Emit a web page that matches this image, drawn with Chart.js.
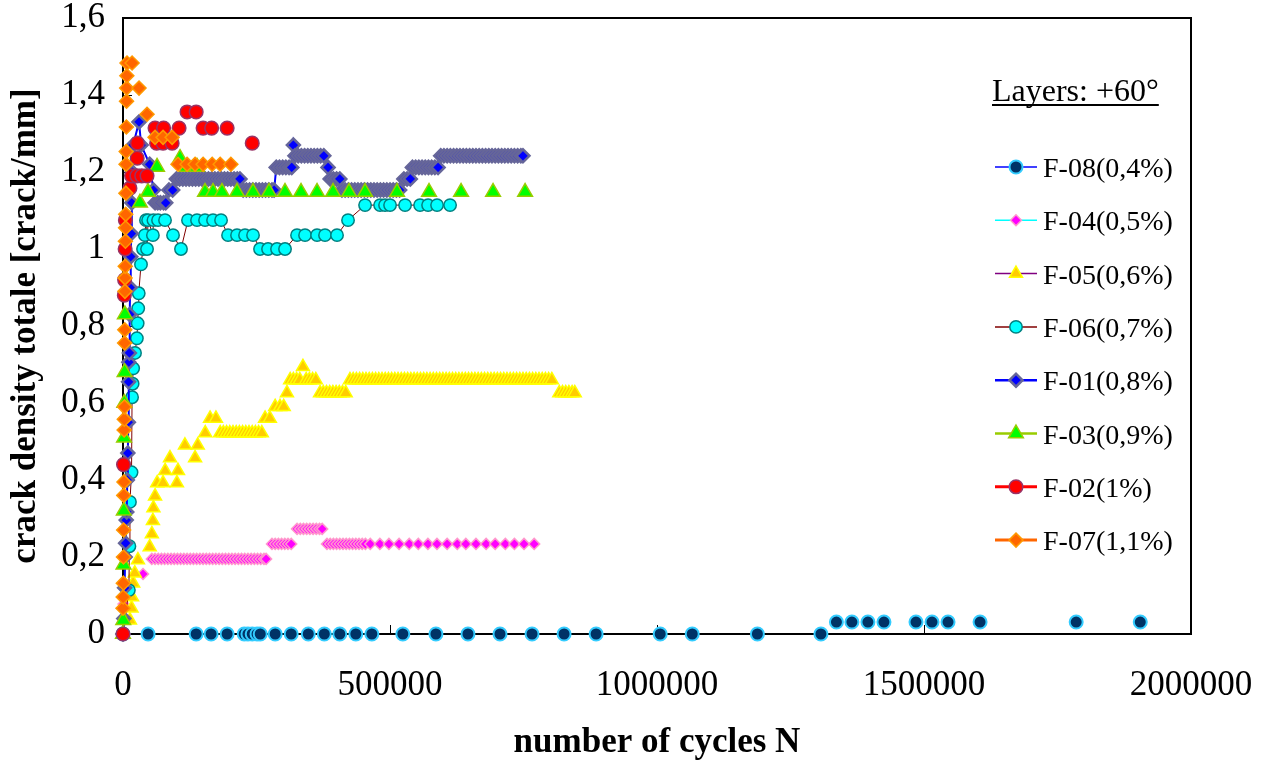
<!DOCTYPE html>
<html>
<head>
<meta charset="utf-8">
<script src="https://cdn.jsdelivr.net/npm/chart.js@4/dist/chart.umd.min.js"></script>
<style>
  html, body { margin: 0; padding: 0; background: #fff; }
  canvas { display: block; }
</style>
</head>
<body>
<canvas id="crackChart" width="1270" height="766"></canvas>
<script>
// Axis text
const xTickLabels = ['0', '500000', '1000000', '1500000', '2000000'];
const yTickLabels = ['0', '0,2', '0,4', '0,6', '0,8', '1', '1,2', '1,4', '1,6'];
const xTitle = 'number of cycles N';
const yTitle = 'crack density totale [crack/mm]';
const legendTitle = 'Layers: +60°';
const seriesNames = ['F-08(0,4%)', 'F-04(0,5%)', 'F-05(0,6%)', 'F-06(0,7%)', 'F-01(0,8%)', 'F-03(0,9%)', 'F-02(1%)', 'F-07(1,1%)'];

// Measurements: [number of cycles, crack density (crack/mm)]
const f08 = [
  [0,0],[47000,0],[137000,0],[165000,0],[195000,0],[227000,0],[234000,0],[242000,0],[251000,0],[257000,0],
  [285000,0],[315000,0],[347000,0],[377000,0],[406000,0],[436000,0],[466000,0],[524000,0],[586000,0],[646000,0],
  [706000,0],[766000,0],[826000,0],[886000,0],[1006000,0],[1066000,0],[1188000,0],[1307000,0],
  [1336000,0.031],[1365000,0.031],[1395000,0.031],[1425000,0.031],[1485000,0.031],[1515000,0.031],[1545000,0.031],
  [1605000,0.031],[1785000,0.031],[1905000,0.031]
];

const f04 = [
  [0,0],[1000,0.078],[37500,0.156],
  [54000,0.195],[60000,0.195],[66000,0.195],[72000,0.195],[78000,0.195],[84000,0.195],[90000,0.195],[96000,0.195],
  [102000,0.195],[108000,0.195],[114000,0.195],[120000,0.195],[126000,0.195],[132000,0.195],[138000,0.195],[144000,0.195],
  [150000,0.195],[156000,0.195],[162000,0.195],[168000,0.195],[174000,0.195],[180000,0.195],[186000,0.195],[192000,0.195],
  [198000,0.195],[204000,0.195],[210000,0.195],[216000,0.195],[222000,0.195],[228000,0.195],[234000,0.195],[240000,0.195],
  [246000,0.195],[252000,0.195],[258000,0.195],[264000,0.195],[268000,0.195],
  [279000,0.234],[285000,0.234],[291000,0.234],[297000,0.234],[303000,0.234],[309000,0.234],[315000,0.234],
  [326000,0.273],[332000,0.273],[338000,0.273],[344000,0.273],[350000,0.273],[356000,0.273],[362000,0.273],[368000,0.273],[373000,0.273],
  [382000,0.234],[388000,0.234],[394000,0.234],[400000,0.234],[406000,0.234],[412000,0.234],[418000,0.234],[424000,0.234],
  [430000,0.234],[436000,0.234],[442000,0.234],[448000,0.234],[454000,0.234],
  [463000,0.234],[481000,0.234],[498000,0.234],[517000,0.234],[536000,0.234],[553000,0.234],[571000,0.234],[588000,0.234],
  [607000,0.234],[626000,0.234],[642000,0.234],[661000,0.234],[680000,0.234],[697000,0.234],[716000,0.234],[733000,0.234],
  [751000,0.234],[770000,0.234]
];

const f05 = [
  [0,0],[13000,0.036],[16000,0.067],[17000,0.096],[19000,0.132],[22000,0.158],[28000,0.192],[50000,0.226],[54000,0.26],
  [56000,0.294],[57000,0.327],[60000,0.358],[64000,0.392],[75000,0.392],[79000,0.424],[88000,0.457],[101000,0.392],
  [103000,0.424],[116000,0.49],[135000,0.457],[140000,0.49],[154000,0.522],[163000,0.56],[174000,0.56],
  [182000,0.522],[188000,0.522],[194000,0.522],[200000,0.522],[206000,0.522],[212000,0.522],[218000,0.522],[224000,0.522],
  [230000,0.522],[236000,0.522],[242000,0.522],[248000,0.522],[254000,0.522],[260000,0.522],
  [266000,0.56],[275000,0.56],[285000,0.59],[294000,0.59],[301000,0.59],[307000,0.626],
  [313000,0.66],[319000,0.66],[325000,0.66],[331000,0.66],[337000,0.694],[343000,0.66],[349000,0.66],[355000,0.66],[361000,0.66],
  [369000,0.626],[375000,0.626],[381000,0.626],[387000,0.626],[393000,0.626],[399000,0.626],[405000,0.626],[411000,0.626],[417000,0.626],
  [425000,0.66],[431000,0.66],[437000,0.66],[443000,0.66],[449000,0.66],[455000,0.66],[461000,0.66],[467000,0.66],
  [473000,0.66],[479000,0.66],[485000,0.66],[491000,0.66],[497000,0.66],[503000,0.66],[509000,0.66],[515000,0.66],
  [521000,0.66],[527000,0.66],[533000,0.66],[539000,0.66],[545000,0.66],[551000,0.66],[557000,0.66],[563000,0.66],
  [569000,0.66],[575000,0.66],[581000,0.66],[587000,0.66],[593000,0.66],[599000,0.66],[605000,0.66],[611000,0.66],
  [617000,0.66],[623000,0.66],[629000,0.66],[635000,0.66],[641000,0.66],[647000,0.66],[653000,0.66],[659000,0.66],
  [665000,0.66],[671000,0.66],[677000,0.66],[683000,0.66],[689000,0.66],[695000,0.66],[701000,0.66],[707000,0.66],
  [713000,0.66],[719000,0.66],[725000,0.66],[731000,0.66],[737000,0.66],[743000,0.66],[749000,0.66],[755000,0.66],
  [761000,0.66],[767000,0.66],[773000,0.66],[779000,0.66],[785000,0.66],[791000,0.66],[797000,0.66],[803000,0.66],
  [817000,0.626],[823000,0.626],[829000,0.626],[835000,0.626],[841000,0.626],[846000,0.626]
];

const f06 = [
  [0,0],[11000,0.114],[12000,0.228],[13000,0.343],[16000,0.42],[17000,0.615],[18000,0.65],[19000,0.69],[22500,0.73],
  [26000,0.768],[27500,0.807],[28500,0.846],[29500,0.885],[33700,0.96],[37500,1.0],[41000,1.036],[43000,1.075],
  [45000,1.0],[47000,1.075],[56000,1.036],[57000,1.075],[65600,1.075],[78700,1.075],[93700,1.036],[108600,1.0],
  [121700,1.075],[138600,1.075],[153600,1.075],[168600,1.075],[183600,1.075],[196700,1.036],[213500,1.036],
  [228500,1.036],[243500,1.036],[256600,1.0],[271600,1.0],[288400,1.0],[303400,1.0],[325900,1.036],[340900,1.036],
  [363400,1.036],[378300,1.036],[400800,1.036],[421400,1.075],[453300,1.114],[481400,1.114],[490700,1.114],
  [500100,1.114],[528200,1.114],[556300,1.114],[571300,1.114],[588100,1.114],[612500,1.114]
];

const f01 = [
  [0,0],[1500,0.04],[3000,0.12],[4000,0.2],[5000,0.236],[6000,0.296],[7000,0.317],[8000,0.4],[9000,0.47],
  [10000,0.55],[10500,0.655],[11000,0.706],[12000,0.73],[12500,0.83],[13500,0.9],[14500,0.98],[15500,1.04],
  [16500,1.12],[17500,1.2],[19000,1.27],[30000,1.33],[34000,1.27],[50000,1.22],[57000,1.153],[60000,1.12],
  [65000,1.12],[70000,1.12],[76000,1.12],[80000,1.12],[86000,1.153],[93000,1.153],
  [100000,1.182],[106000,1.182],[112000,1.182],[118000,1.182],[124000,1.182],[130000,1.182],[136000,1.182],
  [142000,1.182],[148000,1.182],[154000,1.182],[160000,1.182],[166000,1.182],[172000,1.182],[178000,1.182],
  [184000,1.182],[190000,1.182],[196000,1.182],[202000,1.182],[208000,1.182],[214000,1.182],[219000,1.182],
  [225000,1.153],[231000,1.153],[237000,1.153],[243000,1.153],[249000,1.153],[255000,1.153],[261000,1.153],
  [267000,1.153],[273000,1.153],[279000,1.153],[283000,1.153],
  [287000,1.212],[293000,1.212],[299000,1.212],[305000,1.212],[311000,1.212],[316000,1.212],[319000,1.27],
  [322000,1.242],[328000,1.242],[334000,1.242],[340000,1.242],[346000,1.242],[352000,1.242],[358000,1.242],
  [364000,1.242],[370000,1.242],[376000,1.242],[384000,1.212],
  [388000,1.182],[394000,1.182],[400000,1.182],[406000,1.182],
  [410000,1.153],[416000,1.153],[422000,1.153],[428000,1.153],[434000,1.153],[440000,1.153],[446000,1.153],
  [452000,1.153],[458000,1.153],[464000,1.153],[470000,1.153],[476000,1.153],[482000,1.153],[488000,1.153],
  [494000,1.153],[500000,1.153],[506000,1.153],[512000,1.153],[518000,1.153],
  [526000,1.182],[532000,1.182],[538000,1.182],
  [542000,1.212],[548000,1.212],[554000,1.212],[560000,1.212],[566000,1.212],[572000,1.212],[578000,1.212],
  [584000,1.212],[590000,1.212],
  [595000,1.242],[601000,1.242],[607000,1.242],[613000,1.242],[619000,1.242],[625000,1.242],[631000,1.242],
  [637000,1.242],[643000,1.242],[649000,1.242],[655000,1.242],[661000,1.242],[667000,1.242],[673000,1.242],
  [679000,1.242],[685000,1.242],[691000,1.242],[697000,1.242],[703000,1.242],[709000,1.242],[715000,1.242],
  [721000,1.242],[727000,1.242],[733000,1.242],[739000,1.242],[745000,1.242],[749000,1.242]
];

const f03 = [
  [0,0],[500,0.036],[1000,0.18],[1500,0.32],[2000,0.51],[2500,0.6],[3000,0.68],[3500,0.83],[31800,1.12],
  [46800,1.148],[63700,1.213],[106800,1.236],[119900,1.213],[138600,1.213],[153600,1.148],[168600,1.148],
  [185400,1.148],[213500,1.148],[243500,1.148],[273500,1.148],[303400,1.148],[333400,1.148],[363400,1.148],
  [393300,1.148],[423300,1.148],[453300,1.148],[513200,1.148],[573100,1.148],[633100,1.148],[693000,1.148],
  [753000,1.148]
];

const f02 = [
  [0,0],[1000,0.44],[2500,0.88],[3000,0.92],[4000,1.0],[4500,1.075],[13000,1.158],[16000,1.19],[26000,1.19],
  [26500,1.236],[27000,1.275],[35000,1.19],[45000,1.19],[60000,1.314],[63000,1.275],[75000,1.275],[76000,1.314],
  [92000,1.275],[105000,1.314],[120000,1.356],[137000,1.356],[150000,1.314],[166000,1.314],[195000,1.314],
  [242000,1.275]
];

const f07 = [
  [0,0.067],[300,0.096],[600,0.132],[900,0.2],[1200,0.27],[1500,0.36],[1800,0.395],[2100,0.53],[2400,0.558],
  [2700,0.59],[3000,0.756],[3300,0.79],[3600,0.89],[3900,0.925],[4200,0.955],[4500,1.02],[4800,1.055],
  [5100,1.09],[5400,1.145],[5700,1.22],[6000,1.253],[6300,1.317],[6600,1.384],[6900,1.418],[7200,1.45],
  [7500,1.483],[17000,1.483],[30000,1.418],[45000,1.35],[60000,1.29],[75000,1.29],[92000,1.29],[103000,1.22],
  [120000,1.22],[135000,1.22],[150000,1.22],[167000,1.22],[182000,1.22],[202000,1.22]
];

const seriesPoints = [f08, f04, f05, f06, f01, f03, f02, f07];

// Marker and line looks per specimen
const looks = [
  { shape: 'circle',   r: 6.5, fill: '#003366', edge: '#33CCFF', edgeW: 2,   line: '#0000FF', legendLine: 1.5, plotLine: 0 },
  { shape: 'rectRot',  r: 5.5, fill: '#FF00FF', edge: '#FF99CC', edgeW: 1.5, line: '#00FFFF', legendLine: 1.5, plotLine: 0 },
  { shape: 'triangle', r: 7.5, fill: '#FFCC00', edge: '#FFFF00', edgeW: 1.5, line: '#800080', legendLine: 1.5, plotLine: 0 },
  { shape: 'circle',   r: 6.2, fill: '#00FFFF', edge: '#008080', edgeW: 1.5, line: '#800000', legendLine: 1.5, plotLine: 1 },
  { shape: 'rectRot',  r: 6.5, fill: '#0000FF', edge: '#666699', edgeW: 2.5, line: '#0000FF', legendLine: 2.5, plotLine: 2 },
  { shape: 'triangle', r: 8.5, fill: '#00FF00', edge: '#99CC00', edgeW: 1.5, line: '#99CC00', legendLine: 2.5, plotLine: 0 },
  { shape: 'circle',   r: 6.8, fill: '#FF0000', edge: '#993366', edgeW: 1.5, line: '#FF0000', legendLine: 3,   plotLine: 0 },
  { shape: 'rectRot',  r: 7,   fill: '#FF6600', edge: '#FF9900', edgeW: 1.5, line: '#FF6600', legendLine: 3,   plotLine: 0 }
];

const serif = '"Liberation Serif", "Times New Roman", serif';
Chart.defaults.font.family = serif;
Chart.defaults.color = '#000';

function drawMarker(ctx, lk, x, y) {
  const r = lk.r;
  ctx.beginPath();
  if (lk.shape === 'circle') {
    ctx.arc(x, y, r, 0, Math.PI * 2);
  } else if (lk.shape === 'rectRot') {
    ctx.moveTo(x - r, y); ctx.lineTo(x, y - r); ctx.lineTo(x + r, y); ctx.lineTo(x, y + r);
  } else {
    const a = 2 * Math.PI / 3;
    ctx.moveTo(x, y - r);
    ctx.lineTo(x + Math.sin(a) * r, y - Math.cos(a) * r);
    ctx.lineTo(x - Math.sin(a) * r, y - Math.cos(a) * r);
  }
  ctx.closePath();
  ctx.fillStyle = lk.fill;
  ctx.fill();
  ctx.lineWidth = lk.edgeW;
  ctx.strokeStyle = lk.edge;
  ctx.stroke();
}

// Plot frame and inward tick marks, drawn beneath the markers
const frameTicks = {
  id: 'frameTicks',
  beforeDatasetsDraw(chart) {
    const { ctx, chartArea: a, scales: { x, y } } = chart;
    ctx.save();
    ctx.strokeStyle = '#000';
    ctx.lineWidth = 1;
    ctx.beginPath();
    x.ticks.forEach(t => {
      const px = Math.round(x.getPixelForValue(t.value)) + 0.5;
      ctx.moveTo(px, a.bottom); ctx.lineTo(px, a.bottom - 9);
    });
    y.ticks.forEach(t => {
      const py = Math.round(y.getPixelForValue(t.value)) + 0.5;
      ctx.moveTo(a.left, py); ctx.lineTo(a.left + 9, py);
    });
    ctx.stroke();
    ctx.lineWidth = 2;
    ctx.strokeRect(a.left, a.top, a.right - a.left, a.bottom - a.top);
    ctx.restore();
  }
};

// Legend block with title, line + marker samples and labels
const legendBlock = {
  id: 'legendBlock',
  afterDraw(chart) {
    const ctx = chart.ctx;
    ctx.save();
    ctx.fillStyle = '#000';
    ctx.textBaseline = 'alphabetic';
    ctx.textAlign = 'left';
    ctx.font = '32px ' + serif;
    ctx.fillText(legendTitle, 992, 101);
    const tw = ctx.measureText(legendTitle).width;
    ctx.fillRect(992, 104, tw, 2);
    ctx.font = '28px ' + serif;
    seriesNames.forEach((name, i) => {
      const lk = looks[i];
      const yy = 167 + i * 53.3;
      ctx.strokeStyle = lk.line;
      ctx.lineWidth = lk.legendLine;
      ctx.beginPath();
      ctx.moveTo(995, yy); ctx.lineTo(1037, yy);
      ctx.stroke();
      drawMarker(ctx, lk, 1016, yy);
      ctx.fillStyle = '#000';
      ctx.fillText(name, 1043, yy + 10);
    });
    ctx.restore();
  }
};

const datasets = seriesPoints.map((pts, i) => {
  const lk = looks[i];
  return {
    label: seriesNames[i],
    data: pts.map(p => ({ x: p[0], y: p[1] })),
    showLine: lk.plotLine > 0,
    borderColor: lk.line,
    borderWidth: lk.plotLine,
    pointStyle: lk.shape,
    pointRadius: lk.r,
    pointBackgroundColor: lk.fill,
    pointBorderColor: lk.edge,
    pointBorderWidth: lk.edgeW,
    clip: false,
    order: seriesPoints.length - 1 - i
  };
});

new Chart(document.getElementById('crackChart'), {
  type: 'scatter',
  data: { datasets },
  options: {
    responsive: false,
    animation: false,
    events: [],
    layout: { padding: { top: 18, right: 79, bottom: 0, left: 0 } },
    plugins: { legend: { display: false }, tooltip: { enabled: false } },
    scales: {
      x: {
        type: 'linear', min: 0, max: 2000000,
        ticks: {
          stepSize: 500000, autoSkip: false, maxRotation: 0, padding: 31, color: '#000',
          font: { size: 35 }, callback: (v, i) => xTickLabels[i]
        },
        grid: { display: false, drawTicks: false },
        border: { display: false },
        title: { display: true, text: xTitle, color: '#000', font: { size: 35, weight: 'bold' }, padding: { top: 0, bottom: 2 } },
        afterFit(s) { s.height = 132; s.paddingLeft = 0; s.paddingRight = 0; }
      },
      y: {
        type: 'linear', min: 0, max: 1.6,
        ticks: {
          stepSize: 0.2, padding: 18, color: '#000',
          font: { size: 35 }, callback: (v, i) => yTickLabels[i]
        },
        grid: { display: false, drawTicks: false },
        border: { display: false },
        title: { display: true, text: yTitle, color: '#000', font: { size: 35, weight: 'bold' }, padding: { top: 5, bottom: 0 } },
        afterFit(s) { s.width = 123; s.paddingTop = 0; s.paddingBottom = 0; }
      }
    }
  },
  plugins: [frameTicks, legendBlock]
});
</script>
</body>
</html>
